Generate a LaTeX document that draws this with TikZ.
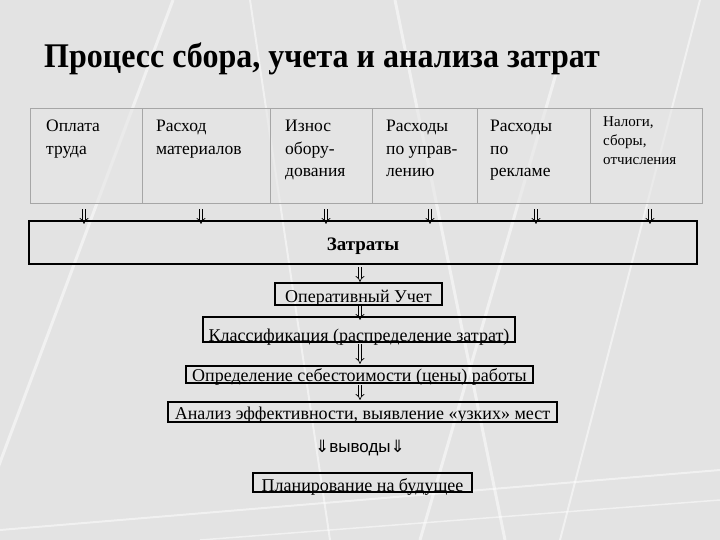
\documentclass[tikz,border=0pt]{standalone}
\usepackage{fontspec}
\setmainfont{Liberation Serif}
\newfontfamily\arialf{Liberation Sans}
\newfontfamily\symf{DejaVu Sans}
\usetikzlibrary{arrows.meta}
\definecolor{bgc}{HTML}{E3E3E3}
\definecolor{cellc}{HTML}{E6E6E6}
\definecolor{cellb}{HTML}{A6A6A6}
\begin{document}
\begin{tikzpicture}[x=1pt,y=-1pt,
  cell/.style={draw=cellb, line width=1.3pt, fill=cellc, fill opacity=0.6, minimum height=95pt, anchor=north west, inner sep=0pt},
  celltext/.style={anchor=north west, inner sep=0pt, align=left, font=\fontsize{17.5}{22.5}\selectfont},
  smalltext/.style={anchor=north west, inner sep=0pt, align=left, font=\fontsize{15}{19}\selectfont},
  flowbox/.style={draw=black, line width=2.2pt, inner xsep=0pt, inner ysep=0pt, text depth=0pt, font=\fontsize{18}{20}\selectfont},
  dbl/.style={draw=black, double=bgc, double distance=2.4pt, line width=0.7pt, -{Implies[length=4pt]}},
  streak/.style={white, line width=3pt, opacity=0.5}]
\useasboundingbox (0,0) rectangle (720,540);
\fill[bgc] (0,0) rectangle (720,540);
% background streaks
\draw[streak] (173,0) -- (-29,540);
\draw[streak] (395,0) -- (505,540);
\draw[streak] (560,60) -- (420,540);
\draw[streak, line width=2pt] (700,0) -- (560,540);
\draw[streak, line width=2pt] (250,0) -- (330,540);
\draw[streak, line width=2pt] (0,530) -- (720,470);
\draw[streak, line width=1.5pt] (200,540) -- (720,500);

% title
\node[anchor=base west, inner sep=0pt, font=\fontsize{32}{36}\bfseries\selectfont] (title) at (44,68) {\scalebox{1}[1.08]{Процесс сбора, учета и анализа затрат}};

% table cells
\node[cell, minimum width=112pt] (c1) at (30,108) {};
\node[cell, minimum width=128pt] (c2) at (142,108) {};
\node[cell, minimum width=102pt] (c3) at (270,108) {};
\node[cell, minimum width=105pt] (c4) at (372,108) {};
\node[cell, minimum width=113pt] (c5) at (477,108) {};
\node[cell, minimum width=112pt] (c6) at (590,108) {};

\node[celltext] (t1) at (46,120) {Оплата\\труда};
\node[celltext] (t2) at (156,120) {Расход\\материалов};
\node[celltext] (t3) at (285,120) {Износ\\обору-\\дования};
\node[celltext] (t4) at (386,120) {Расходы\\по управ-\\лению};
\node[celltext] (t5) at (490,120) {Расходы\\по\\рекламе};
\node[smalltext] (t6) at (603,116) {Налоги,\\сборы,\\отчисления};

% main flow
\node[flowbox, minimum width=668pt, minimum height=43pt, text height=15pt, font=\fontsize{19}{21}\bfseries\selectfont] (zatr) at (363,242.5) {Затраты};
\node[flowbox, minimum width=167pt, minimum height=22pt, text height=16pt] (op) at (358.5,294) {Оперативный Учет};
\node[flowbox, minimum width=312pt, minimum height=25pt, text height=23pt] (kl) at (359,329.5) {Классификация (распределение затрат)};
\node[flowbox, minimum width=347pt, minimum height=17pt, text height=13pt] (opr) at (359.5,374.5) {Определение себестоимости (цены) работы};
\node[flowbox, minimum width=389pt, minimum height=20pt, text height=14pt] (an) at (362.5,412) {Анализ эффективности, выявление «узких» мест};
\node[inner sep=0pt, font=\fontsize{17}{19}\selectfont] (vyv) at (360,448) {{\symf ⇓}{\arialf выводы}{\symf ⇓}};
\node[flowbox, minimum width=219pt, minimum height=19pt, text height=17pt] (plan) at (362.5,482.5) {Планирование на будущее};

% arrows from cells
\foreach \c/\xx in {c1/84, c2/201, c3/326, c4/430, c5/536, c6/650}{
  \draw[dbl, shorten <=5pt, shorten >=-4pt] (\c.south -| \xx,0) -- (zatr.north -| \xx,0);
}
% chain arrows
\draw[dbl, shorten <=2pt] (zatr.south -| 360,0) -- (op.north -| 360,0);
\draw[dbl, shorten >=-4pt] (op.south -| 360,0) -- (kl.north -| 360,0);
\draw[dbl, shorten <=1pt, shorten >=1pt] (kl.south -| 360,0) -- (opr.north -| 360,0);
\draw[dbl, shorten <=1pt, shorten >=1pt] (opr.south -| 360,0) -- (an.north -| 360,0);
\end{tikzpicture}
\end{document}
